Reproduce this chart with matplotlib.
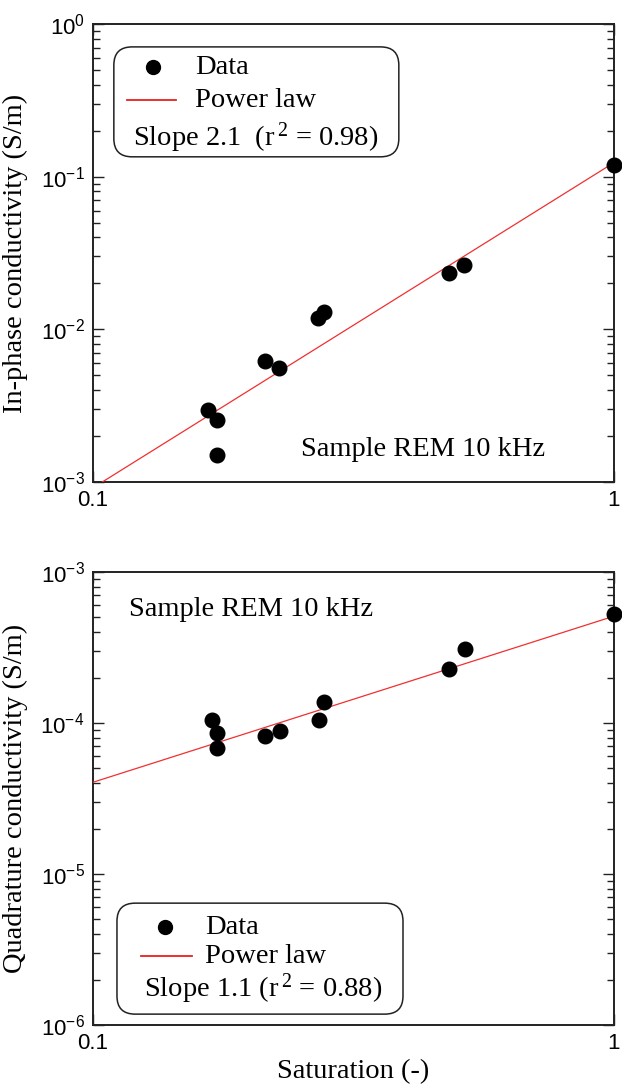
import matplotlib
matplotlib.use("Agg")
import matplotlib.pyplot as plt
import numpy as np
from matplotlib.patches import FancyBboxPatch
from matplotlib.ticker import FixedLocator, NullLocator, LogLocator, FuncFormatter

plt.rcParams['font.family'] = ['Liberation Serif', 'DejaVu Serif']
plt.rcParams['mathtext.fontset'] = 'custom'
plt.rcParams['mathtext.rm'] = 'Liberation Serif'
plt.rcParams['mathtext.sf'] = 'Liberation Sans'
plt.rcParams['mathtext.default'] = 'rm'

# ---- data ----
sat_inphase = [0.166, 0.173, 0.173, 0.214, 0.228, 0.270, 0.277, 0.482, 0.515, 1.0]
sigma_inphase = [2.96e-3, 2.56e-3, 1.50e-3, 6.2e-3, 5.6e-3, 1.19e-2, 1.30e-2, 2.34e-2, 2.65e-2, 0.120]

sat_quad = [0.169, 0.173, 0.173, 0.214, 0.229, 0.271, 0.278, 0.483, 0.517, 1.0]
sigma_quad = [1.05e-4, 8.6e-5, 6.8e-5, 8.2e-5, 8.9e-5, 1.04e-4, 1.37e-4, 2.29e-4, 3.11e-4, 5.3e-4]

fit_inphase = (0.1236, 2.13)   # prefactor, exponent
fit_quad = (5.1e-4, 1.1)

slope_inphase = r'Slope 2.1  (r$^{\,2}$ = 0.98)'
slope_quad = r'Slope 1.1 (r$^{\,2}$ = 0.88)'
sample_txt = 'Sample REM 10 kHz'

FS = 20.5
TICK_FS = 16


def ylog_label(v, pos):
    return r'$\mathsf{10^{%d}}$' % int(round(np.log10(v)))


def xlab(v, pos):
    return '0.1' if v < 0.5 else '1'


def legend_box(ax, box, mk, line, slope_pos, slope_txt):
    # box = (x0, y0, x1, y1) in axes fraction
    asp = 521 / 458
    p = FancyBboxPatch((box[0], box[1]), box[2] - box[0], box[3] - box[1],
                       boxstyle="round,pad=0,rounding_size=0.035", mutation_aspect=asp,
                       transform=ax.transAxes, fc='white', ec='#222222', lw=1.1, zorder=6)
    ax.add_patch(p)
    ax.plot([mk[0]], [mk[1]], 'o', color='black', ms=10, transform=ax.transAxes,
            clip_on=False, zorder=7)
    ax.text(mk[2], mk[1], 'Data', transform=ax.transAxes, fontsize=FS, va='center', zorder=7)
    ax.plot([line[0], line[1]], [line[2], line[2]], color='#e82020', lw=1.3,
            transform=ax.transAxes, zorder=7)
    ax.text(mk[2], line[2], 'Power law', transform=ax.transAxes, fontsize=FS, va='center', zorder=7)
    ax.text(slope_pos[0], slope_pos[1], slope_txt, transform=ax.transAxes, fontsize=FS,
            va='center', zorder=7)


def panel(ax, sat, sigma, fit, ylim, ylabel):
    xs = np.array([0.1, 1.0])
    ax.plot(xs, fit[0] * xs ** fit[1], color='#f03030', lw=0.9, zorder=3)
    ax.plot(sat, sigma, 'o', color='black', ms=10.5, clip_on=False, zorder=5)
    ax.set_xscale('log')
    ax.set_yscale('log')
    ax.set_xlim(0.1, 1)
    ax.set_ylim(*ylim)
    ax.xaxis.set_major_locator(FixedLocator([0.1, 1]))
    ax.xaxis.set_minor_locator(NullLocator())
    ax.xaxis.set_major_formatter(FuncFormatter(xlab))
    ax.yaxis.set_major_locator(LogLocator(base=10))
    ax.yaxis.set_minor_locator(LogLocator(base=10, subs=np.arange(2, 10)))
    ax.yaxis.set_major_formatter(FuncFormatter(ylog_label))
    ax.tick_params(which='both', direction='in', left=True, right=True, top=True, bottom=True,
                   width=1.0, color='#222222')
    ax.tick_params(which='major', length=8, pad=6, labelsize=TICK_FS)
    ax.tick_params(which='minor', length=5)
    ax.tick_params(axis='x', labelfontfamily='Liberation Sans')
    for s in ax.spines.values():
        s.set_linewidth(1.4)
        s.set_color('#222222')
    ax.set_ylabel(ylabel, fontsize=FS)
    ax.yaxis.set_label_coords(-0.125, 0.5)


fig = plt.figure(figsize=(6.22, 10.89), dpi=100)
ax1 = fig.add_axes([93 / 622, 1 - 482 / 1089, 521 / 622, 458 / 1089])
ax2 = fig.add_axes([93 / 622, 1 - 1025 / 1089, 521 / 622, 453 / 1089])

panel(ax1, sat_inphase, sigma_inphase, fit_inphase, (1e-3, 1), 'In-phase conductivity (S/m)')
panel(ax2, sat_quad, sigma_quad, fit_quad, (1e-6, 1e-3), 'Quadrature conductivity (S/m)')

legend_box(ax1, (0.040, 0.710, 0.587, 0.950), (0.115, 0.906, 0.196),
           (0.065, 0.159, 0.834), (0.077, 0.751), slope_inphase)
legend_box(ax2, (0.046, 0.024, 0.595, 0.269), (0.138, 0.216, 0.215),
           (0.092, 0.190, 0.152), (0.098, 0.079), slope_quad)

ax1.text(0.399, 0.070, sample_txt, transform=ax1.transAxes, fontsize=FS, va='center')
ax2.text(0.069, 0.918, sample_txt, transform=ax2.transAxes, fontsize=FS, va='center')

ax2.set_xlabel('Saturation (-)', fontsize=FS)
ax2.xaxis.set_label_coords(0.5, -0.075)

fig.savefig('out.png', dpi=100)
